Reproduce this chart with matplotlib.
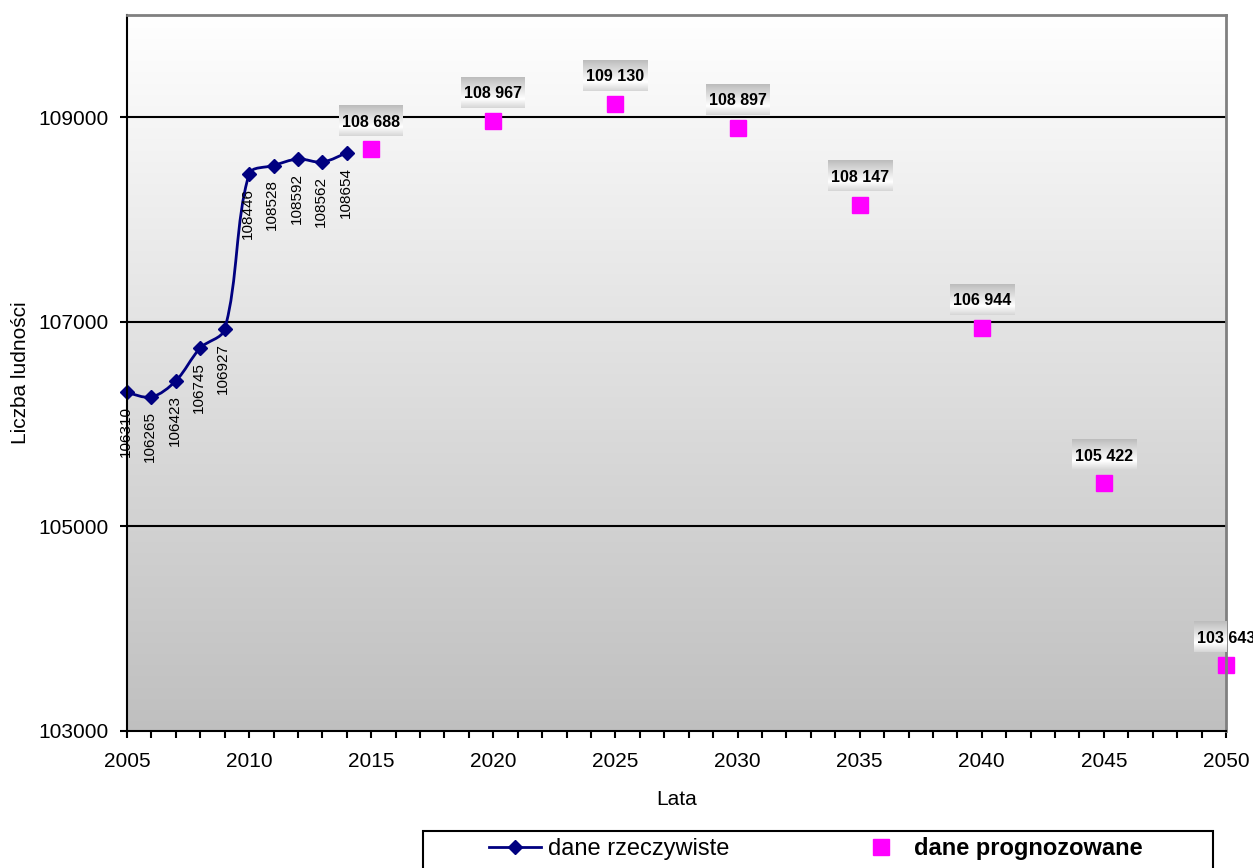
import numpy as np
import matplotlib
matplotlib.use("Agg")
import matplotlib.pyplot as plt
from matplotlib.path import Path
from matplotlib.patches import PathPatch, Rectangle
from matplotlib.lines import Line2D
from matplotlib.image import BboxImage
from matplotlib.transforms import Bbox
from matplotlib.ticker import MultipleLocator

plt.rcParams['font.family'] = ['Liberation Sans', 'DejaVu Sans']

# ---- data ----
years_actual = [2005, 2006, 2007, 2008, 2009, 2010, 2011, 2012, 2013, 2014]
pop_actual = [106310, 106265, 106423, 106745, 106927, 108446, 108528, 108592, 108562, 108654]
years_forecast = [2015, 2020, 2025, 2030, 2035, 2040, 2045, 2050]
pop_forecast = [108688, 108967, 109130, 108897, 108147, 106944, 105422, 103643]
y_ticks = [103000, 105000, 107000, 109000]
x_ticks = [2005, 2010, 2015, 2020, 2025, 2030, 2035, 2040, 2045, 2050]
series_names = ["dane rzeczywiste", "dane prognozowane"]
xlabel = "Lata"
ylabel = "Liczba ludności"

NAVY = '#000080'
MAGENTA = '#FF00FF'

W, H = 1253, 868
fig = plt.figure(figsize=(W / 100, H / 100), dpi=100)
ax = fig.add_axes([127 / W, 1 - 731 / H, (1226 - 127) / W, (731 - 15) / H])

ax.set_xlim(2005, 2050)
ax.set_ylim(103000, 110000)

# background gradient
grad = np.linspace(1.0, 0.75, 256).reshape(-1, 1)
ax.imshow(np.dstack([grad, grad, grad]), extent=(0, 1, 0, 1), transform=ax.transAxes,
          aspect='auto', zorder=0, interpolation='bilinear')

# gridlines
for yv in y_ticks[1:]:
    ax.axhline(yv, color='black', lw=1.5, zorder=1)

# smoothed actual line: Bezier through the data points (tangent length
# proportional to neighbouring segment lengths, computed in display space)
pts_d = ax.transData.transform(np.column_stack([years_actual, pop_actual]).astype(float))
n = len(pts_d)
verts = [pts_d[0]]
codes = [Path.MOVETO]
k = 1.0 / 3.0
for i in range(n - 1):
    p0 = pts_d[i - 1] if i > 0 else pts_d[i]
    p1 = pts_d[i]
    p2 = pts_d[i + 1]
    p3 = pts_d[i + 2] if i + 2 < n else pts_d[i + 1]
    d01 = np.hypot(*(p1 - p0))
    d12 = np.hypot(*(p2 - p1))
    d23 = np.hypot(*(p3 - p2))
    f1 = d12 / (d01 + d12) if (d01 + d12) > 0 else 0.5
    f2 = d12 / (d12 + d23) if (d12 + d23) > 0 else 0.5
    if i == 0:
        f1 = 0.5
    if i + 2 >= n:
        f2 = 0.5
    c1 = p1 + (p2 - p0) * f1 * k
    c2 = p2 - (p3 - p1) * f2 * k
    verts += [c1, c2, p2]
    codes += [Path.CURVE4] * 3
verts_data = ax.transData.inverted().transform(np.array(verts))
ax.add_patch(PathPatch(Path(verts_data, codes), facecolor='none', edgecolor=NAVY, lw=2, zorder=3))
ax.plot(years_actual, pop_actual, linestyle='none', marker='D', ms=7.5, color=NAVY, zorder=4,
        clip_on=False)

# actual labels (rotated)
for x, y in zip(years_actual, pop_actual):
    ax.annotate(f"{y}", (x, y), xytext=(-1, -10), textcoords='offset points',
                rotation=90, ha='center', va='top', fontsize=11, zorder=6)

# forecast squares
ax.plot(years_forecast, pop_forecast, linestyle='none', marker='s', ms=11, color=MAGENTA,
        zorder=4, clip_on=False)

fc_texts = []
for x, y in zip(years_forecast, pop_forecast):
    lbl = f"{y:,}".replace(",", " ")
    t = ax.annotate(lbl, (x, y), xytext=(0, 19.5), textcoords='offset points',
                    ha='center', va='center', fontsize=11.5, fontweight='bold', zorder=7,
                    annotation_clip=False)
    fc_texts.append(t)

# spines and ticks
for s in ['left', 'bottom']:
    ax.spines[s].set_color('black')
    ax.spines[s].set_linewidth(1.5)
for s in ['top', 'right']:
    ax.spines[s].set_color('#808080')
    ax.spines[s].set_linewidth(2)
for s in ax.spines.values():
    s.set_zorder(5)

ax.set_xticks(x_ticks)
ax.set_xticklabels([str(v) for v in x_ticks])
ax.xaxis.set_minor_locator(MultipleLocator(1))
ax.set_yticks(y_ticks)
ax.set_yticklabels([str(v) for v in y_ticks])
ax.tick_params(axis='both', which='both', direction='out', length=5, width=1.5,
               labelsize=15, color='black')
ax.tick_params(axis='x', which='both', pad=10, top=False)
ax.tick_params(axis='y', which='both', pad=8, right=False)
ax.set_xlabel(xlabel, fontsize=15, labelpad=14)
ax.set_ylabel(ylabel, fontsize=15, labelpad=6.5)

# gradient boxes behind forecast labels
fig.canvas.draw()
renderer = fig.canvas.get_renderer()
bgrad = np.concatenate([np.linspace(0.74, 1.0, 70), np.linspace(1.0, 0.84, 30)])
bimg = np.dstack([bgrad, bgrad, bgrad]).reshape(-1, 1, 3)
for t in fc_texts:
    bb = t.get_window_extent(renderer)
    cx = (bb.x0 + bb.x1) / 2
    cy = (bb.y0 + bb.y1) / 2 + 1.5
    hw = bb.width / 2 + 3
    box = Bbox.from_extents(cx - hw, cy - 15.5, cx + hw, cy + 15.5)
    im = BboxImage(box, interpolation='bilinear', zorder=6.5)
    im.set_data(bimg)
    ax.add_artist(im)

# legend
handles = [Line2D([], [], color=NAVY, lw=2, marker='D', ms=7.5),
           Line2D([], [], color=MAGENTA, lw=0, marker='s', ms=11)]
leg = fig.legend(handles, series_names, loc='center left',
                 bbox_to_anchor=(489 / W, 1 - 849 / H), ncol=2, frameon=False,
                 fontsize=17, borderpad=0, handlelength=2.2, handletextpad=0.3,
                 columnspacing=5.3, borderaxespad=0)
leg.get_texts()[1].set_fontweight('bold')
fig.patches.append(Rectangle((423 / W, -0.05), (1213 - 423) / W, 0.05 + 1 - 831 / H,
                             transform=fig.transFigure, facecolor='white',
                             edgecolor='black', lw=1.5, zorder=-1))

fig.savefig("out.png", dpi=100)
